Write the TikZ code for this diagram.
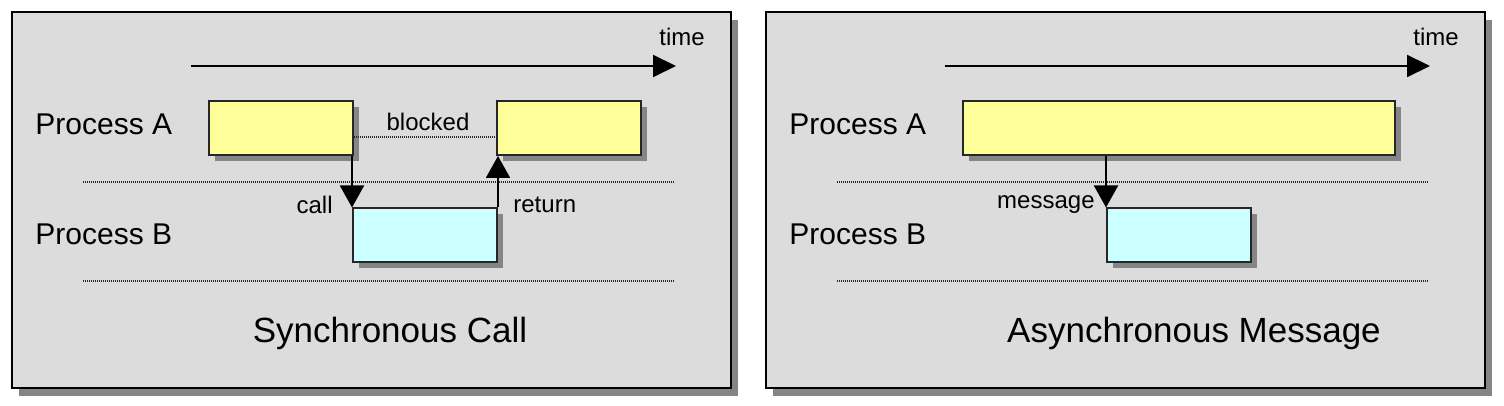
\documentclass[tikz,border=0pt]{standalone}
\usepackage{fontspec}
\setmainfont{Liberation Sans}
\usetikzlibrary{arrows.meta,shadows,positioning}
\definecolor{panelgray}{HTML}{DCDCDC}
\definecolor{procyellow}{HTML}{FFFF99}
\definecolor{proccyan}{HTML}{CCFFFF}
\definecolor{shadowgray}{HTML}{858585}
% frame, dotted lanes, time axis and lane labels of one panel
% #1 = prefix of the node names, #2 = x offset of the panel
\newcommand{\panelbase}[2]{
   \node[panel] (#1) at (371.5+#2,200) {};
   \foreach \y in {182,281}
      \draw[lane] (83+#2,\y) -- (675+#2,\y);
   \coordinate (#1t0) at (191+#2,66);
   \coordinate (#1t1) at (676+#2,66);
   \draw[timearrow] (#1t0) -- (#1t1);
   \node[smalltext] (#1time) at (682+#2,37) {time};
   \node[lanelabel] (#1pa) at (35+#2,124) {Process A};
   \node[lanelabel] (#1pb) at (35+#2,234) {Process B};
}

\begin{document}
\begin{tikzpicture}[x=0.5pt, y=-0.5pt,
  panel/.style={draw=black, line width=1pt, fill=panelgray,
    minimum width=359.5pt, minimum height=188pt, inner sep=0pt,
    drop shadow={shadow xshift=3.5pt, shadow yshift=-4pt,
      fill=shadowgray, opacity=1}},
  proc/.style={draw=black!85, line width=1pt, minimum width=72pt,
    minimum height=27pt, inner sep=0pt,
    drop shadow={shadow xshift=3pt, shadow yshift=-3pt,
      fill=shadowgray, opacity=1}},
  runA/.style={proc, fill=procyellow},
  runB/.style={proc, fill=proccyan},
  lane/.style={line width=0.7pt, black!85, dash pattern=on 0.5pt off 0.5pt},
  timearrow/.style={line width=1pt, -{Triangle[length=11.5pt,width=11pt]}},
  msgarrow/.style={line width=1pt, -{Triangle[length=11pt,width=12pt]}},
  lanelabel/.style={anchor=west, inner sep=0pt, font=\fontsize{15}{18}\selectfont},
  smalltext/.style={inner sep=0pt, font=\fontsize{12}{14}\selectfont},
  caption/.style={anchor=base, inner sep=0pt, font=\fontsize{17.5}{21}\selectfont}]
  \fill[white] (0,0) rectangle (1504,406);
  \useasboundingbox (0,0) rectangle (1504,406);

  %Left panel: synchronous call
  \panelbase{sync}{0}
  \node[runA] (syncA1) at (281,128) {};
  \node[runA] (syncA2) at (569,128) {};
  \node[runB] (syncB) at (425,235.5) {};
  \draw[lane] ([yshift=-4.5pt]syncA1.east) -- ([yshift=-4.5pt]syncA2.west);
  \node[smalltext] (blocked) at (428,122) {blocked};
  \draw[msgarrow] (syncB.west |- syncA1.south) -- (syncB.north west);
  \draw[msgarrow] (syncB.north east) -- (syncB.east |- syncA2.south);
  \node[smalltext, anchor=east] (call) at (333,205) {call};
  \node[smalltext, anchor=west] (return) at (513,205) {return};
  \node[caption] (synccap) at (390,343) {Synchronous Call};

  %Right panel: asynchronous message
  \panelbase{async}{754}
  \node[runA, minimum width=216pt] (asyncA) at (1179,128) {};
  \node[runB] (asyncB) at (1179,235.5) {};
  \draw[msgarrow] (asyncB.west |- asyncA.south) -- (asyncB.north west);
  \node[smalltext, anchor=east] (message) at (1095,205) {message};
  \node[caption] (asynccap) at (1194,343) {Asynchronous Message};
\end{tikzpicture}
\end{document}
